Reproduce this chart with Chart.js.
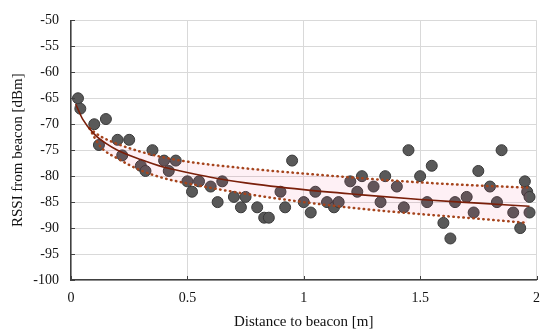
<!DOCTYPE html>
<html>
<head>
    <title>RSSI vs distance</title>
    <script src="https://cdn.jsdelivr.net/npm/chart.js"></script>
    <style>
        html, body { margin: 0; padding: 0; background: #fff; }
        #wrap { width: 550px; height: 334px; }
    </style>
</head>
<body>
    <div id="wrap"><canvas id="rssi-chart" width="550" height="334"></canvas></div>

    <script>
        // Measured samples (distance in m, RSSI in dBm)
        const distance = [0.03, 0.04, 0.10, 0.12, 0.15, 0.20, 0.22, 0.25, 0.30, 0.32, 0.35, 0.40, 0.42, 0.45,
            0.50, 0.52, 0.55, 0.60, 0.63, 0.65, 0.70, 0.73, 0.75, 0.80, 0.83, 0.85, 0.90, 0.92, 0.95,
            1.00, 1.03, 1.05, 1.10, 1.13, 1.15, 1.20, 1.23, 1.25, 1.30, 1.33, 1.35, 1.40, 1.43, 1.45,
            1.50, 1.53, 1.55, 1.60, 1.63, 1.65, 1.70, 1.73, 1.75, 1.80, 1.83, 1.85, 1.90, 1.93, 1.95, 1.96, 1.97, 1.97];
        const rssi = [-65, -67, -70, -74, -69, -73, -76, -73, -78, -79, -75, -77, -79, -77,
            -81, -83, -81, -82, -85, -81, -84, -86, -84, -86, -88, -88, -83, -86, -77,
            -85, -87, -83, -85, -86, -85, -81, -83, -80, -82, -85, -80, -82, -86, -75,
            -80, -85, -78, -89, -92, -85, -84, -87, -79, -82, -85, -75, -87, -90, -81, -83, -84, -87];

        // Fitted trend line
        const fitX = [0.02, 0.05, 0.10, 0.15, 0.20, 0.30, 0.40, 0.50, 0.60, 0.75, 1.00, 1.25, 1.50, 1.75, 1.97];
        const fitY = [-66.1, -69.0, -71.9, -73.7, -75.0, -76.8, -78.3, -79.3, -80.2, -81.3, -82.6, -83.6, -84.5, -85.2, -85.8];

        // Confidence band (dotted lines)
        const bandX = [0.08, 0.10, 0.13, 0.20, 0.30, 0.40, 0.50, 0.75, 1.00, 1.25, 1.50, 1.75, 1.96];
        const bandUpper = [-70.8, -71.5, -72.4, -73.8, -75.3, -76.4, -77.2, -78.5, -79.5, -80.4, -81.2, -81.8, -82.2];
        const bandLower = [-70.8, -72.5, -74.5, -76.6, -78.9, -80.4, -81.4, -83.4, -85.0, -86.3, -87.3, -88.2, -89.0];

        const xTicks = [0, 0.5, 1, 1.5, 2];

        const toPoints = (xs, ys) => xs.map((x, i) => ({ x: x, y: ys[i] }));
        const serif = "'Liberation Serif', 'Times New Roman', serif";
        const bandFill = 'rgba(235, 40, 120, 0.07)';

        // short dark tick marks pointing into the plot
        const innerTicks = {
            id: 'innerTicks',
            afterDraw(chart) {
                const ctx = chart.ctx;
                const xs = chart.scales.x, ys = chart.scales.y;
                const area = chart.chartArea;
                ctx.save();
                ctx.strokeStyle = '#404040';
                ctx.lineWidth = 1;
                ctx.beginPath();
                ys.ticks.forEach(t => {
                    const py = Math.round(ys.getPixelForValue(t.value)) + 0.5;
                    ctx.moveTo(area.left, py);
                    ctx.lineTo(area.left + 4, py);
                });
                xs.ticks.forEach(t => {
                    const px = Math.round(xs.getPixelForValue(t.value)) + 0.5;
                    ctx.moveTo(px, area.bottom);
                    ctx.lineTo(px, area.bottom - 4);
                });
                ctx.stroke();
                ctx.restore();
            }
        };

        const ctx = document.getElementById('rssi-chart').getContext('2d');
        new Chart(ctx, {
            type: 'scatter',
            data: {
                datasets: [
                    {
                        label: 'Samples',
                        data: toPoints(distance, rssi),
                        backgroundColor: '#595959',
                        borderColor: '#3a3a3a',
                        borderWidth: 1,
                        pointRadius: 5.5,
                        order: 10
                    },
                    {
                        label: 'Upper',
                        type: 'line',
                        data: toPoints(bandX, bandUpper),
                        borderColor: '#a5441c',
                        borderWidth: 2.5,
                        borderDash: [0.5, 4.5],
                        borderCapStyle: 'round',
                        pointRadius: 0,
                        cubicInterpolationMode: 'monotone',
                        fill: false,
                        order: 2
                    },
                    {
                        label: 'Lower',
                        type: 'line',
                        data: toPoints(bandX, bandLower),
                        borderColor: '#a5441c',
                        borderWidth: 2.5,
                        borderDash: [0.5, 4.5],
                        borderCapStyle: 'round',
                        pointRadius: 0,
                        cubicInterpolationMode: 'monotone',
                        fill: { target: '-1', above: bandFill, below: bandFill },
                        order: 3
                    },
                    {
                        label: 'Fit',
                        type: 'line',
                        data: toPoints(fitX, fitY),
                        borderColor: '#7a1f0a',
                        borderWidth: 1.6,
                        pointRadius: 0,
                        cubicInterpolationMode: 'monotone',
                        fill: false,
                        order: 1
                    }
                ]
            },
            options: {
                responsive: false,
                animation: false,
                layout: { padding: { top: 12, right: 13, left: 0, bottom: 0 } },
                plugins: {
                    legend: { display: false },
                    tooltip: { enabled: false }
                },
                scales: {
                    x: {
                        type: 'linear',
                        min: 0,
                        max: 2,
                        afterBuildTicks: s => { s.ticks = xTicks.map(v => ({ value: v })); },
                        afterFit: s => { s.height = 54; },
                        grid: { color: '#d9d9d9', lineWidth: 1, drawTicks: false },
                        border: { color: '#404040', width: 1.5 },
                        ticks: {
                            color: '#111',
                            padding: 10,
                            font: { family: serif, size: 14 },
                            callback: v => String(v)
                        },
                        title: {
                            display: true,
                            text: 'Distance to beacon [m]',
                            color: '#111',
                            font: { family: serif, size: 15 },
                            padding: { top: 0, bottom: 3 }
                        }
                    },
                    y: {
                        min: -100,
                        max: -50,
                        afterFit: s => { s.width = 71; },
                        grid: { color: '#d9d9d9', lineWidth: 1, drawTicks: false },
                        border: { color: '#404040', width: 1.5 },
                        ticks: { stepSize: 5, color: '#111', padding: 12, font: { family: serif, size: 14 } },
                        title: {
                            display: true,
                            text: 'RSSI from beacon [dBm]',
                            color: '#111',
                            font: { family: serif, size: 15 },
                            padding: { top: 9, bottom: 0 }
                        }
                    }
                }
            },
            plugins: [innerTicks]
        });
    </script>
</body>
</html>
